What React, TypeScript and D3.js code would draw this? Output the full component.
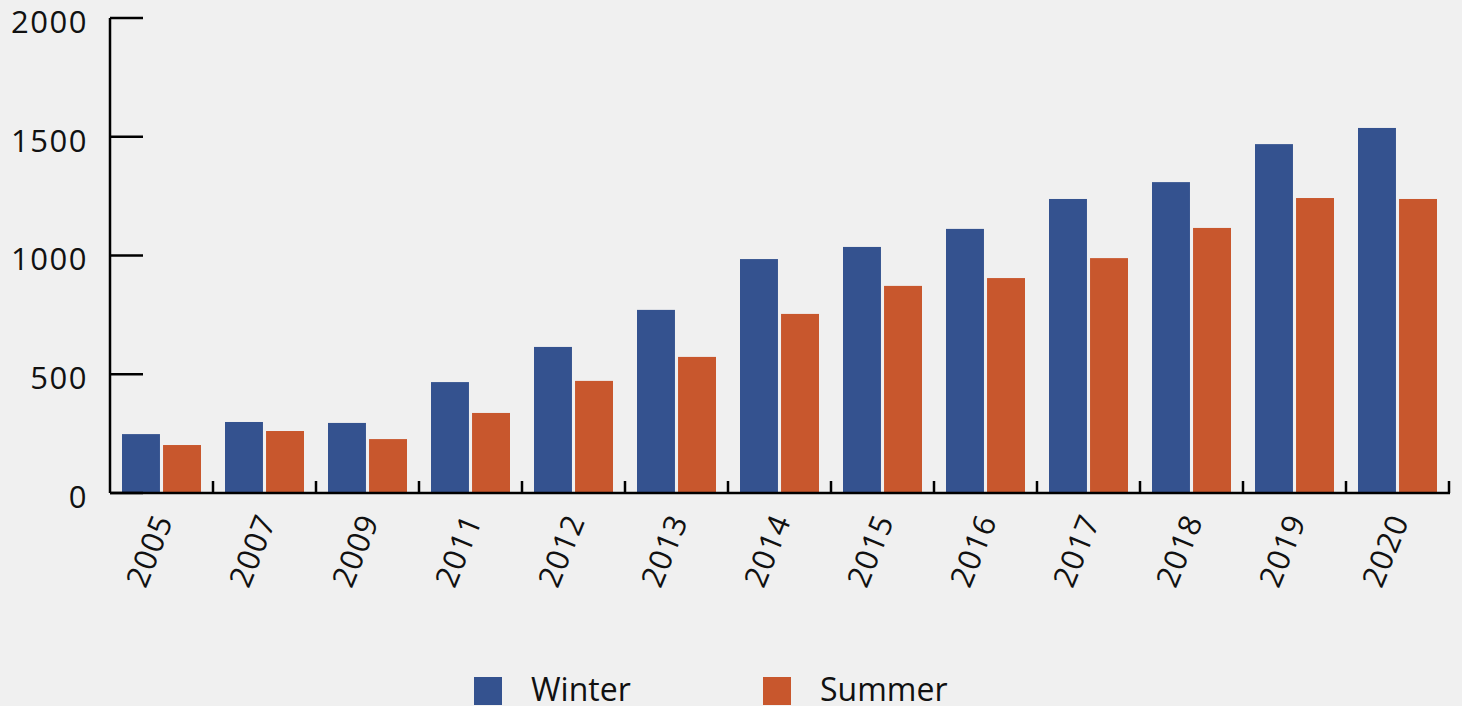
import React from 'react'
import * as d3 from 'd3'

const years = ['2005', '2007', '2009', '2011', '2012', '2013', '2014', '2015', '2016', '2017', '2018', '2019', '2020'];
const winter = [248, 299, 295, 467, 615, 771, 985, 1036, 1112, 1238, 1309, 1469, 1537];
const summer = [202, 261, 227, 337, 472, 573, 754, 872, 905, 989, 1116, 1242, 1238];
const series = ['Winter', 'Summer'];
const yTicks = [0, 500, 1000, 1500, 2000];

const Colors: { [k: string]: string } = { Winter: '#34528f', Summer: '#c8572d' };

const W = 1462;
const H = 706;
const font = '"Open Sans", sans-serif';

export default function App() {
  const x = d3.scaleBand<string>().domain(years).range([110, 1449]).paddingInner(0).paddingOuter(0);
  const y = d3.scaleLinear().domain([0, 2000]).range([493, 18]);
  // inner band for the two bars of a year
  const x1 = d3.scaleBand<string>().domain(series).range([12, x.bandwidth() - 12]).paddingInner(0.075);

  const rows = years.map((yr, i) => ({ yr, Winter: winter[i], Summer: summer[i] }));

  return (
    <div style={{ position: 'absolute', left: 0, top: 0 }}>
      <svg width={W} height={H} style={{ display: 'block', background: '#f0f0f0' }}>
        {/* bars */}
        {rows.map((d) => (
          <g key={d.yr} transform={`translate(${x(d.yr)}, 0)`}>
            {series.map((s) => (
              <rect
                key={s}
                x={x1(s)}
                y={y((d as any)[s])}
                width={x1.bandwidth()}
                height={y(0) - y((d as any)[s])}
                fill={Colors[s]}
              />
            ))}
          </g>
        ))}

        {/* y axis */}
        <line x1={110} x2={110} y1={y(2000)} y2={y(0)} stroke="#000" strokeWidth={2.5} />
        {yTicks.map((t) => (
          <g key={t}>
            <line x1={110} x2={143} y1={y(t)} y2={y(t)} stroke="#000" strokeWidth={2.5} />
            <text x={88} y={y(t) + (t === 0 ? 4 : 4)} dy="0.35em" textAnchor="end" letterSpacing={1.5}
              fontFamily={font} fontSize={31} fill="#111">{t}</text>
          </g>
        ))}

        {/* x axis */}
        <line x1={110} x2={1450} y1={y(0)} y2={y(0)} stroke="#000" strokeWidth={2.5} />
        {years.map((yr) => (
          <line key={'t' + yr} x1={(x(yr) as number) + x.bandwidth()} x2={(x(yr) as number) + x.bandwidth()}
            y1={y(0) - 12} y2={y(0)} stroke="#000" strokeWidth={2.5} />
        ))}
        {years.map((yr) => (
          <text key={'l' + yr}
            transform={`translate(${(x(yr) as number) + x.bandwidth() / 2 + 2}, 516) rotate(-68)`}
            dy="0.35em" textAnchor="end" letterSpacing={1} fontFamily={font} fontSize={31} fill="#111">{yr}</text>
        ))}

        {/* legend */}
        {series.map((s, i) => (
          <g key={s} transform={`translate(${474 + i * 289}, 677)`}>
            <rect width={28} height={28} fill={Colors[s]} />
            <text x={57} y={24} fontFamily={font} fontSize={32} fill="#111">{s}</text>
          </g>
        ))}
      </svg>
    </div>
  );
}
